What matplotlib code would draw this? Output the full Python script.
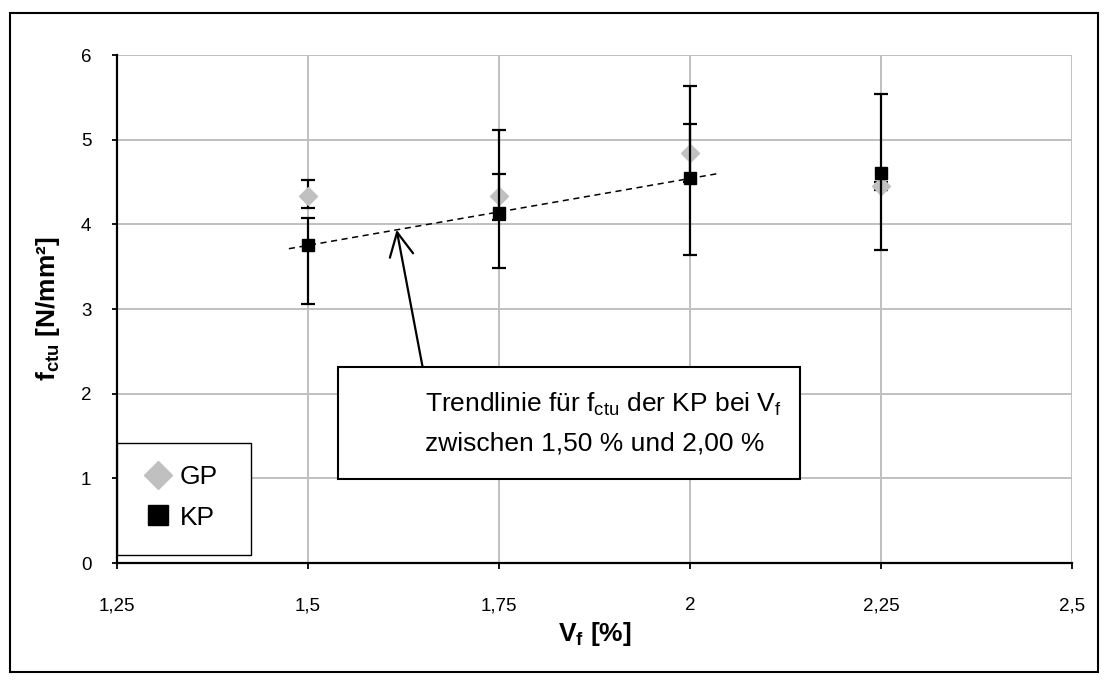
import numpy as np
import matplotlib
matplotlib.use("Agg")
import matplotlib.pyplot as plt
from matplotlib.lines import Line2D
from matplotlib.patches import Rectangle
from matplotlib.ticker import FixedLocator, FuncFormatter

plt.rcParams['font.family'] = ['Liberation Sans', 'DejaVu Sans']
plt.rcParams['mathtext.default'] = 'regular'

# Data
vf = [1.5, 1.75, 2.0, 2.25]
gp_mean = [4.33, 4.34, 4.84, 4.45]
gp_upper = [4.52, 4.60, 5.19, 4.50]
gp_lower = [4.19, 4.05, 4.50, 4.40]
kp_mean = [3.76, 4.13, 4.55, 4.61]
kp_upper = [4.07, 5.11, 5.63, 5.54]
kp_lower = [3.06, 3.49, 3.64, 3.70]

x_ticks = [1.25, 1.5, 1.75, 2.0, 2.25, 2.5]
y_ticks = [0, 1, 2, 3, 4, 5, 6]

GREY = '#c0c0c0'

fig = plt.figure(figsize=(11.08, 6.82), dpi=100)
ax = fig.add_axes([117 / 1108, 1 - 563 / 682, 955 / 1108, 508 / 682])

# outer frame of the chart area
fig.patches.append(Rectangle((10 / 1108, 10 / 682), 1088 / 1108, 659 / 682,
                             transform=fig.transFigure, fill=False,
                             edgecolor='black', linewidth=1.5, zorder=0))

ax.set_xlim(1.25, 2.5)
ax.set_ylim(0, 6)
ax.xaxis.set_major_locator(FixedLocator(x_ticks))
ax.yaxis.set_major_locator(FixedLocator(y_ticks))
ax.xaxis.set_major_formatter(FuncFormatter(lambda v, p: f"{v:g}".replace('.', ',')))
ax.yaxis.set_major_formatter(FuncFormatter(lambda v, p: f"{v:g}"))
ax.grid(True, color=GREY, linewidth=1.4, zorder=0)
ax.set_axisbelow(True)
for s in ['top', 'right']:
    ax.spines[s].set_visible(False)
for s in ['left', 'bottom']:
    ax.spines[s].set_linewidth(1.6)
ax.tick_params(axis='x', direction='out', length=4.5, width=1.3, pad=20, labelsize=13.5)
ax.tick_params(axis='y', direction='out', length=3.5, width=1.3, pad=15, labelsize=13.5)

# error bars
gp = np.array(gp_mean)
kp = np.array(kp_mean)
gp_err = [gp - np.array(gp_lower), np.array(gp_upper) - gp]
kp_err = [kp - np.array(kp_lower), np.array(kp_upper) - kp]

ax.errorbar(vf, gp_mean, yerr=gp_err, fmt='D', color=GREY, markersize=9.5,
            ecolor='black', elinewidth=1.6, capsize=5, capthick=1.6, zorder=3)
ax.errorbar(vf, kp_mean, yerr=kp_err, fmt='s', color='black', markersize=8.5,
            ecolor='black', elinewidth=1.6, capsize=5, capthick=1.6, zorder=4)

# linear trend for KP between 1.50 % and 2.00 %
coef = np.polyfit(vf[:3], kp_mean[:3], 1)
xt = np.array([1.475, 2.04])
ax.plot(xt, np.polyval(coef, xt), color='black', linestyle=(0, (4, 3)),
        linewidth=1.1, zorder=5)

# annotation box with arrow
ax.add_patch(Rectangle((0.2314, 0.165), 0.4838, 0.2205, transform=ax.transAxes,
                       facecolor='white', edgecolor='black', linewidth=1.5,
                       zorder=6))
ax.text(0.3225, 0.313, 'Trendlinie für f$_{ctu}$ der KP bei V$_f$',
        transform=ax.transAxes, fontsize=19, va='center', ha='left', zorder=7)
ax.text(0.3225, 0.236, 'zwischen 1,50 % und 2,00 %',
        transform=ax.transAxes, fontsize=19, va='center', ha='left', zorder=7)
x_tip = 1.616
ax.annotate('', xy=(x_tip, np.polyval(coef, x_tip)), xytext=(1.65, 2.315),
            arrowprops=dict(arrowstyle='->,head_length=1.7,head_width=0.85',
                            mutation_scale=10, color='black', lw=1.6,
                            shrinkA=0, shrinkB=0),
            zorder=7)

ax.set_xlabel('V$_f$ [%]', fontsize=19, fontweight='bold')
ax.set_ylabel('f$_{ctu}$ [N/mm²]', fontsize=19, fontweight='bold')
ax.xaxis.set_label_coords(0.5, -0.112)
ax.yaxis.set_label_coords(-0.058, 0.5)

# legend: own frame, entries placed inside it
ax.add_patch(Rectangle((0.0, 0.0157), 0.1403, 0.2205, transform=ax.transAxes,
                       facecolor='white', edgecolor='black', linewidth=1.0,
                       zorder=8, clip_on=False))
handles = [Line2D([], [], linestyle='none', marker='D', color=GREY, markersize=14.5),
           Line2D([], [], linestyle='none', marker='s', color='black', markersize=15)]
leg = ax.legend(handles, ['GP', 'KP'], loc='center left',
                bbox_to_anchor=(0.0291, 0.129), fontsize=19, frameon=False,
                handlelength=1.0, handletextpad=0.33, borderpad=0,
                labelspacing=0.62, borderaxespad=0)
leg.set_zorder(9)

fig.savefig('out.png', dpi=100)
